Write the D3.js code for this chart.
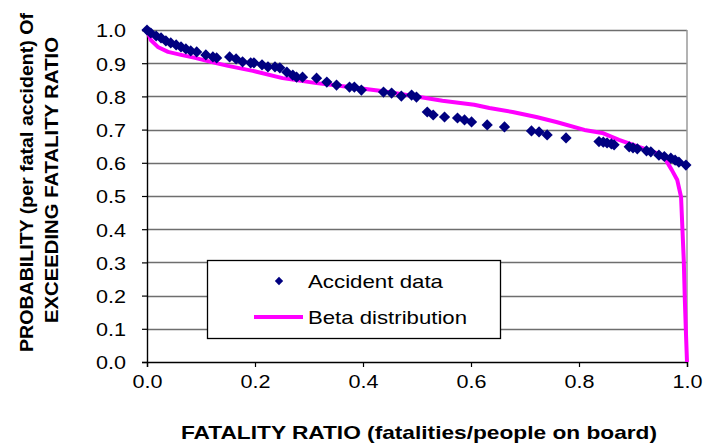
<!DOCTYPE html>
<html lang="en">
<head>
  <meta charset="UTF-8">
  <title>Fatality ratio exceedance</title>
  <script src="https://d3js.org/d3.v7.min.js"></script>
  <style>
    body { margin: 0; background: #fff; }
    text { font-family: "Liberation Sans", Arial, sans-serif; fill: #000; }
    .title { font-weight: bold; }
  </style>
</head>
<body>
<script>
// accident data (fatality ratio, probability of exceeding)
var accX = [0.0, 0.007, 0.017, 0.026, 0.035, 0.044, 0.054, 0.063, 0.072, 0.081, 0.092, 0.109, 0.122, 0.129,
  0.153, 0.165, 0.177, 0.192, 0.198, 0.213, 0.224, 0.237, 0.246, 0.259, 0.270, 0.277, 0.288, 0.314,
  0.333, 0.351, 0.375, 0.384, 0.397, 0.438, 0.453, 0.471, 0.490, 0.499, 0.519, 0.530, 0.551, 0.575,
  0.588, 0.601, 0.630, 0.662, 0.712, 0.726, 0.741, 0.776, 0.837, 0.845, 0.852, 0.860, 0.865, 0.893,
  0.900, 0.908, 0.925, 0.933, 0.948, 0.958, 0.970, 0.978, 0.985, 0.998];
var accY = [1.0, 0.991, 0.982, 0.976, 0.967, 0.961, 0.955, 0.949, 0.943, 0.937, 0.934, 0.925, 0.919, 0.916,
  0.919, 0.913, 0.904, 0.901, 0.901, 0.895, 0.889, 0.889, 0.886, 0.873, 0.864, 0.858, 0.858, 0.855,
  0.843, 0.834, 0.828, 0.828, 0.819, 0.813, 0.810, 0.801, 0.804, 0.798, 0.753, 0.744, 0.738, 0.735,
  0.729, 0.723, 0.714, 0.708, 0.696, 0.693, 0.684, 0.675, 0.664, 0.662, 0.660, 0.657, 0.654, 0.648,
  0.645, 0.642, 0.636, 0.633, 0.623, 0.619, 0.614, 0.608, 0.602, 0.593];

// beta distribution curve
var betaX = [0.0, 0.007, 0.02, 0.039, 0.063, 0.089, 0.118, 0.15, 0.196, 0.251, 0.314, 0.375, 0.431,
  0.505, 0.547, 0.606, 0.634, 0.677, 0.721, 0.758, 0.81, 0.843, 0.874, 0.911, 0.943, 0.961, 0.972,
  0.982, 0.989, 0.994, 0.996, 0.998, 1.0];
var betaY = [1.0, 0.970, 0.949, 0.934, 0.925, 0.916, 0.904, 0.892, 0.877, 0.855, 0.840, 0.828, 0.817,
  0.798, 0.787, 0.775, 0.765, 0.753, 0.738, 0.723, 0.699, 0.690, 0.669, 0.648, 0.630, 0.608, 0.578,
  0.548, 0.497, 0.307, 0.187, 0.09, 0.0];

var xTicks = [0, 0.2, 0.4, 0.6, 0.8, 1.0];
var yTicks = [0, 0.1, 0.2, 0.3, 0.4, 0.5, 0.6, 0.7, 0.8, 0.9, 1.0];

var W = 703, H = 443;
var pLeft = 147, pRight = 687, pTop = 30, pBottom = 362;

var svg = d3.select("body").append("svg")
  .attr("width", W).attr("height", H);

var x = d3.scaleLinear().domain([0, 1]).range([pLeft, pRight]);
var y = d3.scaleLinear().domain([0, 1]).range([pBottom, pTop]);

// gridlines
svg.append("g").selectAll("line")
  .data(yTicks.slice(1))
  .enter().append("line")
  .attr("x1", pLeft).attr("x2", pRight)
  .attr("y1", function(d) { return Math.round(y(d)) + 0.5; })
  .attr("y2", function(d) { return Math.round(y(d)) + 0.5; })
  .attr("stroke", "#6e6e6e").attr("stroke-width", 1.5);

// plot area right border
svg.append("line")
  .attr("x1", pRight).attr("x2", pRight).attr("y1", pTop).attr("y2", pBottom)
  .attr("stroke", "#9a9a9a").attr("stroke-width", 1.5);

// axes
var xAxis = svg.append("g")
  .attr("transform", "translate(0," + pBottom + ")")
  .call(d3.axisBottom(x).tickValues(xTicks).tickFormat(d3.format(".1f")).tickSizeOuter(0).tickSize(5).tickPadding(8));
var yAxis = svg.append("g")
  .attr("transform", "translate(" + pLeft + ",0)")
  .call(d3.axisLeft(y).tickValues(yTicks).tickFormat(d3.format(".1f")).tickSizeOuter(0).tickSize(5).tickPadding(16));
[xAxis, yAxis].forEach(function(a) {
  a.select(".domain").attr("stroke", "#000").attr("stroke-width", 1.4);
  a.selectAll(".tick line").attr("stroke", "#000").attr("stroke-width", 1.2);
  a.selectAll(".tick text")
    .style("font-size", "19px")
    .style("font-family", "'Liberation Sans', Arial, sans-serif")
    .attr("fill", "#000")
    .attr("textLength", 30)
    .attr("lengthAdjust", "spacingAndGlyphs");
});
xAxis.selectAll(".tick text").attr("dy", "0.71em");
yAxis.selectAll(".tick text").attr("dy", "0.36em");

// beta line
var pts = betaX.map(function(v, i) { return [v, betaY[i]]; });
svg.append("path")
  .datum(pts)
  .attr("fill", "none")
  .attr("stroke", "#ff00ff")
  .attr("stroke-width", 4)
  .attr("stroke-linejoin", "round")
  .attr("d", d3.line().x(function(d) { return x(d[0]); }).y(function(d) { return y(d[1]); }));

// diamonds
var diamond = d3.symbol().type(d3.symbolDiamond2).size(80);
svg.append("g").selectAll("path")
  .data(accX.map(function(v, i) { return [v, accY[i]]; }))
  .enter().append("path")
  .attr("d", diamond)
  .attr("transform", function(d) { return "translate(" + x(d[0]) + "," + y(d[1]) + ")"; })
  .attr("fill", "#000080");

// legend
var lg = svg.append("g");
lg.append("rect")
  .attr("x", 207.5).attr("y", 260.5).attr("width", 293).attr("height", 78)
  .attr("fill", "#fff").attr("stroke", "#000").attr("stroke-width", 1.3);
lg.append("path")
  .attr("d", d3.symbol().type(d3.symbolDiamond2).size(44))
  .attr("transform", "translate(279,281)")
  .attr("fill", "#000080");
lg.append("text").attr("x", 308).attr("y", 288).style("font-size", "19px")
  .attr("textLength", 135).attr("lengthAdjust", "spacingAndGlyphs").text("Accident data");
lg.append("line").attr("x1", 254).attr("x2", 303).attr("y1", 317).attr("y2", 317)
  .attr("stroke", "#ff00ff").attr("stroke-width", 4);
lg.append("text").attr("x", 308).attr("y", 324).style("font-size", "19px")
  .attr("textLength", 159).attr("lengthAdjust", "spacingAndGlyphs").text("Beta distribution");

// titles
svg.append("text").attr("class", "title")
  .attr("x", 181).attr("y", 439).style("font-size", "19px")
  .attr("textLength", 476).attr("lengthAdjust", "spacingAndGlyphs")
  .text("FATALITY RATIO (fatalities/people on board)");
svg.append("text").attr("class", "title")
  .attr("transform", "translate(33,352) rotate(-90)").style("font-size", "19px")
  .attr("textLength", 339).attr("lengthAdjust", "spacingAndGlyphs")
  .text("PROBABILITY (per fatal accident) Of");
svg.append("text").attr("class", "title")
  .attr("transform", "translate(58,323) rotate(-90)").style("font-size", "19px")
  .attr("textLength", 286).attr("lengthAdjust", "spacingAndGlyphs")
  .text("EXCEEDING FATALITY RATIO");
</script>
</body>
</html>
